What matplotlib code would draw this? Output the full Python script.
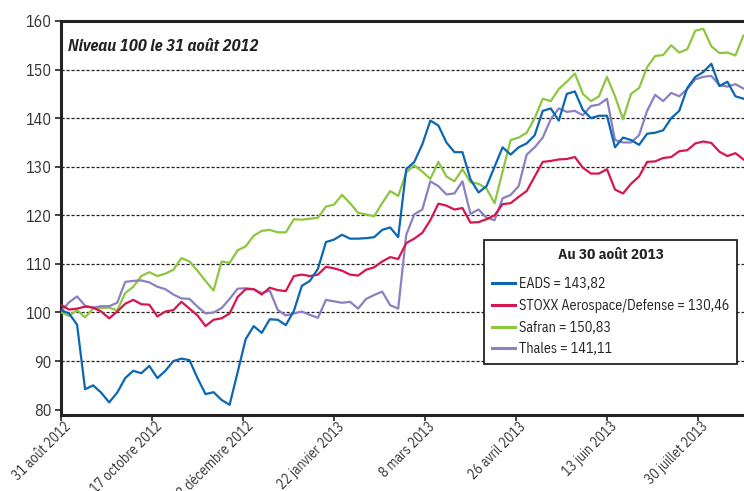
import matplotlib
matplotlib.use("Agg")
import matplotlib.pyplot as plt
from matplotlib.lines import Line2D
from matplotlib import font_manager as fm
from matplotlib.transforms import ScaledTranslation

_avail = {f.name for f in fm.fontManager.ttflist}
_font = next((f for f in ['Liberation Sans Narrow', 'IBM Plex Sans Condensed',
                          'Open Sans Condensed', 'DejaVu Sans'] if f in _avail), 'DejaVu Sans')
plt.rcParams['font.family'] = [_font, 'DejaVu Sans']

# trading-day index since 31 Aug 2012 (one point every 3 sessions)
days = list(range(0, 256, 3))

eads = [100.5, 99.8, 97.5, 84.2, 85.0, 83.5, 81.5, 83.5, 86.5, 88.0,
        87.5, 89.0, 86.5, 88.0, 90.0, 90.5, 90.2, 86.5, 83.2, 83.6,
        82.0, 81.0, 87.7, 94.5, 97.2, 95.8, 98.6, 98.5, 97.4, 100.3,
        105.5, 106.5, 109.0, 114.5, 115.0, 116.0, 115.2, 115.2, 115.3, 115.5,
        117.0, 117.5, 115.5, 129.5, 131.0, 134.6, 139.5, 138.5, 135.0, 133.0,
        133.0, 127.4, 124.7, 126.0, 130.0, 134.0, 132.5, 134.0, 134.8, 136.5,
        141.5, 142.0, 139.5, 145.0, 145.5, 141.7, 140.0, 140.5, 140.5, 134.0,
        136.0, 135.5, 134.5, 136.8, 137.0, 137.5, 140.0, 141.5, 146.2, 148.5,
        149.5, 151.2, 146.6, 147.5, 144.5, 144.0]

stoxx = [101.6, 100.6, 100.8, 101.2, 101.0, 100.2, 98.8, 100.2, 101.8, 102.6,
         101.7, 101.6, 99.2, 100.2, 100.5, 102.2, 100.8, 99.4, 97.2, 98.5,
         98.8, 99.8, 103.2, 104.8, 104.8, 103.7, 105.1, 104.6, 104.4, 107.5,
         107.8, 107.5, 107.8, 109.4, 109.1, 108.6, 107.8, 107.6, 108.8, 109.3,
         110.5, 111.4, 111.0, 114.3, 115.2, 116.4, 119.0, 122.4, 122.0, 121.2,
         121.5, 118.5, 118.6, 119.2, 120.0, 122.3, 122.5, 123.8, 125.0, 128.0,
         131.0, 131.2, 131.5, 131.6, 132.0, 129.8, 128.6, 128.6, 129.5, 125.3,
         124.5, 126.5, 128.0, 131.0, 131.1, 131.8, 132.0, 133.2, 133.4, 134.8,
         135.2, 134.9, 133.1, 132.2, 132.8, 131.5]

safran = [100.0, 99.3, 100.5, 99.0, 100.8, 100.9, 101.0, 100.4, 104.0, 105.3,
          107.5, 108.3, 107.5, 108.0, 108.8, 111.2, 110.5, 108.6, 106.5, 104.5,
          110.5, 110.2, 112.8, 113.6, 115.8, 116.8, 117.0, 116.5, 116.5, 119.2,
          119.1, 119.3, 119.5, 121.8, 122.2, 124.2, 122.5, 120.5, 120.2, 119.8,
          122.5, 125.0, 124.0, 128.8, 130.3, 129.0, 127.5, 131.0, 128.0, 127.0,
          129.5, 126.8, 126.5, 125.5, 122.5, 129.0, 135.5, 136.0, 137.0, 140.0,
          144.0, 143.5, 146.0, 147.5, 149.2, 145.0, 143.5, 144.5, 148.5, 144.5,
          139.8, 145.0, 146.2, 150.5, 152.8, 153.0, 155.0, 153.5, 154.2, 158.0,
          158.4, 154.8, 153.4, 153.5, 152.9, 157.0]

thales = [100.2, 102.1, 103.3, 101.4, 101.0, 101.3, 101.3, 102.0, 106.3, 106.5,
          106.6, 106.2, 105.3, 104.8, 103.7, 102.9, 102.8, 101.2, 99.8, 100.0,
          100.9, 102.8, 104.9, 105.0, 104.8, 104.0, 104.5, 100.5, 99.4, 99.8,
          100.2, 99.5, 98.9, 102.6, 102.3, 102.0, 102.2, 100.8, 102.8, 103.6,
          104.3, 101.5, 100.8, 116.0, 120.2, 121.2, 127.0, 126.0, 124.3, 124.5,
          127.0, 120.3, 121.2, 119.5, 119.0, 123.5, 124.2, 126.0, 132.5, 134.0,
          136.0, 139.8, 142.0, 141.3, 141.5, 140.6, 142.5, 142.8, 144.0, 135.5,
          135.0, 135.0, 136.5, 141.5, 144.8, 143.5, 145.2, 144.5, 146.0, 148.0,
          148.5, 148.7, 146.8, 146.5, 147.0, 146.1]

tick_pos = [0, 34, 68, 102, 136, 170, 204, 238]
tick_labels = ['31 août 2012', '17 octobre 2012', '3 décembre 2012', '22 janvier 2013',
               '8 mars 2013', '26 avril 2013', '13 juin 2013', '30 juillet 2013']
y_ticks = [80, 90, 100, 110, 120, 130, 140, 150, 160]

names = ['EADS = 143,82', 'STOXX Aerospace/Defense = 130,46',
         'Safran = 150,83', 'Thales = 141,11']
colors = ['#0b67b2', '#d6174f', '#8dc63f', '#8a80c2']

fig = plt.figure(figsize=(7.44, 4.91), dpi=100)
ax = fig.add_axes([61/744, 1-415/491, 1-61/744, (415-21)/491])

ax.plot(days, safran, color=colors[2], lw=1.6, zorder=3, solid_joinstyle='round')
ax.plot(days, thales, color=colors[3], lw=1.6, zorder=4, solid_joinstyle='round')
ax.plot(days, stoxx, color=colors[1], lw=1.6, zorder=5, solid_joinstyle='round')
ax.plot(days, eads, color=colors[0], lw=1.6, zorder=6, solid_joinstyle='round')

ax.set_xlim(0, 255.2)
ax.set_ylim(78.9, 160)
ax.set_yticks(y_ticks)
ax.set_yticklabels([str(v) for v in y_ticks])
ax.set_xticks(tick_pos)

for v in y_ticks[1:-1]:
    ax.axhline(v, color='#222222', lw=0.9, ls=(0, (2.5, 1.5)), zorder=1)

for s in ['left', 'bottom', 'top']:
    ax.spines[s].set_linewidth(2.2)
    ax.spines[s].set_color('#222222')
ax.spines['right'].set_visible(False)

ax.tick_params(axis='both', direction='out', length=4, width=1.2,
               color='#222222', labelsize=11.5, labelcolor='#333333', pad=3)
ax.tick_params(axis='x', labelsize=10, pad=2)

ax.set_xticklabels(tick_labels, rotation=45, ha='right', va='top',
                   rotation_mode='anchor')
_shift = ScaledTranslation(3/100, 4/100, fig.dpi_scale_trans)
for tk in ax.xaxis.get_major_ticks():
    tk.label1.set_transform(tk.label1.get_transform() + _shift)

ax.text(0.010, 0.955, 'Niveau 100 le 31 août 2012', transform=ax.transAxes,
        fontsize=12, fontweight='bold', fontstyle='italic', color='#222222',
        ha='left', va='top')

handles = [Line2D([0], [0], color=c, lw=2.2) for c in colors]
leg = fig.legend(handles, names, title='Au 30 août 2013',
                 loc='upper right', bbox_to_anchor=(737/744, 1-240/491),
                 fontsize=10.2, title_fontproperties={'weight': 'bold', 'size': 11},
                 frameon=True, fancybox=False, edgecolor='#222222',
                 handlelength=1.6, handletextpad=0.3, borderpad=0.55,
                 labelspacing=0.55, borderaxespad=0)
leg.get_frame().set_linewidth(1.3)
leg.get_frame().set_facecolor('white')
leg.get_frame().set_alpha(1)
for t in leg.get_texts():
    t.set_color('#222222')
leg.get_title().set_color('#222222')
leg._legend_box.sep = 11

fig.savefig('out.png', dpi=100)
